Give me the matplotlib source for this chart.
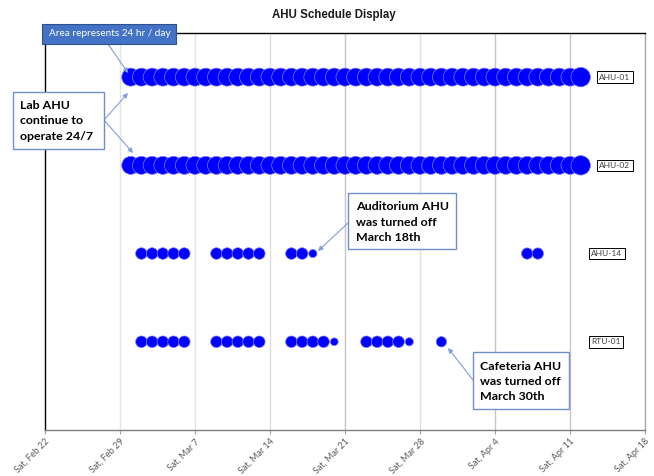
import matplotlib
matplotlib.use("Agg")
import matplotlib.pyplot as plt
from matplotlib.patches import Rectangle
import pandas as pd

W, H = 654, 476

# ---- data -------------------------------------------------------------
units = ["AHU-01", "AHU-02", "AHU-14", "RTU-01"]
unit_rows = [4, 3, 2, 1]

lab_dates = pd.date_range("2020-03-01", "2020-04-12", freq="D")
ahu01_hours = [24, 24, 24, 24, 24, 24, 24, 24, 24, 24, 24, 24, 24, 24,
               24, 24, 24, 24, 24, 24, 24, 24, 24, 24, 24, 24, 24, 24,
               24, 24, 24, 24, 24, 24, 24, 24, 24, 24, 24, 24, 24, 24, 28]
ahu02_hours = [24, 24, 24, 24, 24, 24, 24, 24, 24, 24, 24, 24, 24, 24,
               24, 24, 24, 24, 24, 24, 24, 24, 24, 24, 24, 24, 24, 24,
               24, 24, 24, 24, 24, 24, 24, 24, 24, 24, 24, 24, 24, 24, 28]

ahu14_dates = ["2020-03-02", "2020-03-03", "2020-03-04", "2020-03-05", "2020-03-06",
               "2020-03-09", "2020-03-10", "2020-03-11", "2020-03-12", "2020-03-13",
               "2020-03-16", "2020-03-17", "2020-03-18",
               "2020-04-07", "2020-04-08"]
ahu14_hours = [10, 10, 10, 10, 10,
               10, 10, 10, 10, 10,
               10, 10, 5,
               9.5, 9.5]

rtu01_dates = ["2020-03-02", "2020-03-03", "2020-03-04", "2020-03-05", "2020-03-06",
               "2020-03-09", "2020-03-10", "2020-03-11", "2020-03-12", "2020-03-13",
               "2020-03-16", "2020-03-17", "2020-03-18", "2020-03-19", "2020-03-20",
               "2020-03-23", "2020-03-24", "2020-03-25", "2020-03-26", "2020-03-27",
               "2020-03-30"]
rtu01_hours = [10, 10, 10, 10, 10,
               10, 10, 10, 10, 10,
               10, 10, 10, 10, 4.5,
               10, 10, 10, 10, 5,
               8]

week_ticks = ["2020-02-22", "2020-02-29", "2020-03-07", "2020-03-14", "2020-03-21",
              "2020-03-28", "2020-04-04", "2020-04-11", "2020-04-18"]
tick_labels = ["Sat, Feb 22", "Sat, Feb 29", "Sat, Mar 7", "Sat, Mar 14", "Sat, Mar 21",
               "Sat, Mar 28", "Sat, Apr 4", "Sat, Apr 11", "Sat, Apr 18"]
label_dates = ["2020-04-13 18:00", "2020-04-13 18:00", "2020-04-13", "2020-04-13"]

# ---- figure -----------------------------------------------------------
fig = plt.figure(figsize=(W / 100, H / 100), dpi=100)
ax = fig.add_axes([45 / W, 1 - 430 / H, 600 / W, (430 - 33) / H])

ticks = pd.to_datetime(week_ticks)
grid_colors = ["none", "#e4e4e4", "#e4e4e4", "#dedede", "#c4c4c4",
               "#e0e0e0", "#c4c4c4", "#c8c8c8", "none"]
for t, c in zip(ticks, grid_colors):
    if c != "none":
        ax.axvline(t, color=c, lw=1.0, zorder=0)

size_per_hour = 7.0
series = [
    (lab_dates, ahu01_hours, unit_rows[0]),
    (lab_dates, ahu02_hours, unit_rows[1]),
    (pd.to_datetime(ahu14_dates), ahu14_hours, unit_rows[2]),
    (pd.to_datetime(rtu01_dates), rtu01_hours, unit_rows[3]),
]
for dates, hours, row in series:
    ax.scatter(dates, [row] * len(dates), s=[h * size_per_hour for h in hours],
               color="#0000ff", edgecolors="#8080ff", linewidths=0.5, zorder=3)

for name, row, ld in zip(units, unit_rows, label_dates):
    ax.text(pd.Timestamp(ld), row, name, ha="left", va="center",
            fontsize=6.0, family="Lato", color="#404040", zorder=4,
            bbox=dict(boxstyle="square,pad=0.28", fc="white", ec="black", lw=0.7))

ax.set_xlim(ticks[0], ticks[-1])
ax.set_ylim(0, 4.5)
ax.set_yticks([])
ax.set_xticks(ticks)
ax.set_xticklabels(tick_labels, rotation=45, ha="right", va="top",
                   rotation_mode="anchor", fontsize=6.5, family="Lato", color="#595959")
ax.tick_params(axis="x", length=3, width=0.8, color="#a0a0a0", pad=2)

ax.spines["left"].set_color("black")
ax.spines["top"].set_color("black")
ax.spines["bottom"].set_color("#7f7f7f")
ax.spines["right"].set_color("#a6a6a6")
for s in ax.spines.values():
    s.set_linewidth(1.0)

fig.text(334 / W, 1 - 15 / H, "AHU Schedule Display", ha="center", va="center",
         fontsize=8.3, fontweight="bold", family="Liberation Sans", color="#1a1a1a")


# ---- callouts ---------------------------------------------------------
def box(x0, y0, x1, y1, fc, ec, lw):
    fig.add_artist(Rectangle((x0 / W, 1 - y1 / H), (x1 - x0) / W, (y1 - y0) / H,
                             transform=fig.transFigure, fc=fc, ec=ec, lw=lw, zorder=5))


def arrow(x0, y0, x1, y1):
    ax.annotate("", xy=(x1, H - y1), xytext=(x0, H - y0),
                xycoords="figure pixels", textcoords="figure pixels",
                annotation_clip=False, zorder=6,
                arrowprops=dict(arrowstyle="-|>", color="#7fa0d8", lw=0.8,
                                mutation_scale=7, shrinkA=0, shrinkB=0))


box(41.7, 24, 176, 44, "#4472c4", "#2f528f", 0.8)
fig.text(49 / W, 1 - 34 / H, "Area represents 24 hr / day", ha="left", va="center",
         fontsize=7.2, family="Lato", color="white", zorder=6)
arrow(108, 44, 128, 73)

callout_font = dict(ha="left", va="center", fontsize=8.9, fontweight="bold",
                    family="Lato", color="black", linespacing=1.5, zorder=6)

box(12.5, 92, 104, 149, "white", "#6f8fcf", 1.0)
fig.text(20 / W, 1 - 121 / H, "Lab AHU\ncontinue to\noperate 24/7", **callout_font)
arrow(104, 120, 128, 93)
arrow(104, 120, 133, 153)

box(348, 193, 456, 249, "white", "#6f8fcf", 1.0)
fig.text(356 / W, 1 - 222 / H, "Auditorium AHU\nwas turned off\nMarch 18th", **callout_font)
arrow(348, 223, 318, 251)

box(473, 352, 569, 409, "white", "#6f8fcf", 1.0)
fig.text(480 / W, 1 - 381.5 / H, "Cafeteria AHU\nwas turned off\nMarch 30th", **callout_font)
arrow(473, 380, 448, 348)

fig.savefig("out.png", dpi=100)
